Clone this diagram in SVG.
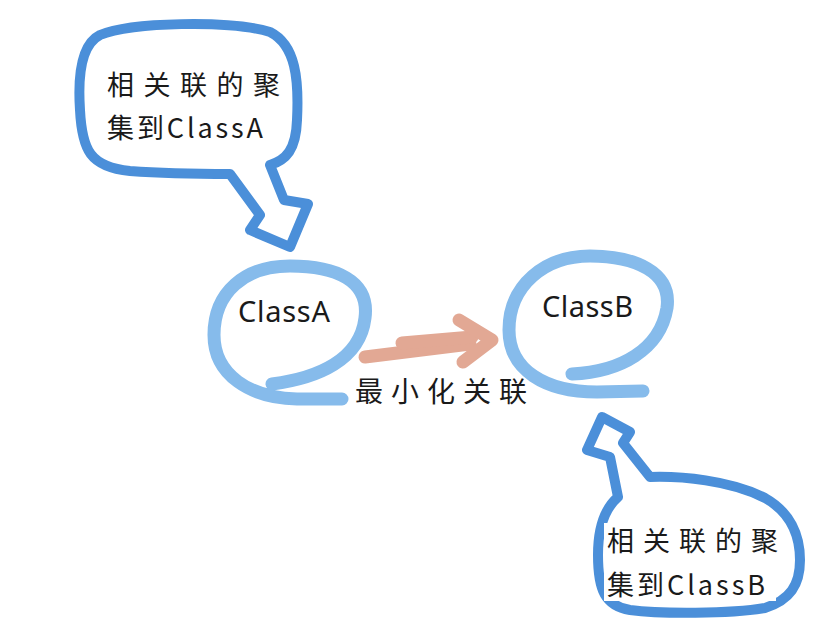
<svg xmlns="http://www.w3.org/2000/svg" width="836" height="626" viewBox="0 0 836 626">
<defs>
<style>
.bubble{fill:none;stroke:#4b8fd9;stroke-width:10;stroke-linejoin:round;stroke-linecap:round}
.ring{fill:none;stroke:#86bbeb;stroke-width:13;stroke-linecap:round}
.arrow{fill:none;stroke:#e2a894;stroke-width:13;stroke-linecap:round;stroke-linejoin:round}
.cjk{font-family:"Noto Sans CJK SC","Noto Sans",sans-serif;fill:#1a1a1a}
.lat{font-family:"Noto Sans","Noto Sans CJK SC",sans-serif;fill:#1a1a1a}
</style>
</defs>
<rect width="836" height="626" fill="#ffffff"/>
<g id="bubbleA">
<path class="bubble" d="M230,174 L260,215 L250,230 L290,247 L308,204 L284,200 L270,165 C286,160 296,150 297,120 C299,80 296,45 270,32 C230,20 130,22 100,35 C80,45 78,80 80,110 C82,150 90,167 130,171 C170,174 200,174 230,174 Z"/>
<text class="cjk" x="107" y="95" font-size="27" textLength="173" lengthAdjust="spacing">相关联的聚</text>
<text class="cjk" x="107" y="138" font-size="27" textLength="156" lengthAdjust="spacing">集到ClassA</text>
</g>
<g id="classA">
<path class="ring" d="M272,384 C318,378 360,360 365,318 C370,280 335,266 290,266 C245,266 214,292 214,335 C214,375 250,398 297,399 L342,399"/>
<text class="lat" x="238" y="322" font-size="29" textLength="92" lengthAdjust="spacing">ClassA</text>
</g>
<g id="classB">
<path class="ring" d="M572,374 C620,372 660,350 667,308 C672,272 635,256 590,256 C545,256 509,285 509,330 C509,370 545,392 597,392 L643,391"/>
<text class="lat" x="542" y="317" font-size="29" textLength="91" lengthAdjust="spacing">ClassB</text>
</g>
<g id="bubbleB">
<path class="bubble" d="M602,417 L630,432 L623,443 L650,477 C680,476 730,480 765,498 C790,512 800,535 800,560 C800,585 790,600 765,608 C730,614 660,614 630,610 C605,606 598,590 598,555 C598,530 603,510 618,497 L610,457 L587,450 Z"/>
<rect x="604" y="523" width="172" height="78" fill="#ffffff"/>
<text class="cjk" x="607" y="551" font-size="27" textLength="171" lengthAdjust="spacing">相关联的聚</text>
<text class="cjk" x="607" y="595" font-size="27" textLength="158" lengthAdjust="spacing">集到ClassB</text>
</g>
<g id="connectors">
<path class="arrow" d="M365,357 L470,344"/>
<path class="arrow" d="M402,343 L472,337"/>
<path class="arrow" d="M459,320 L492,340 L463,362"/>
<text class="cjk" x="355" y="402" font-size="28" textLength="172" lengthAdjust="spacing">最小化关联</text>
</g>
</svg>
